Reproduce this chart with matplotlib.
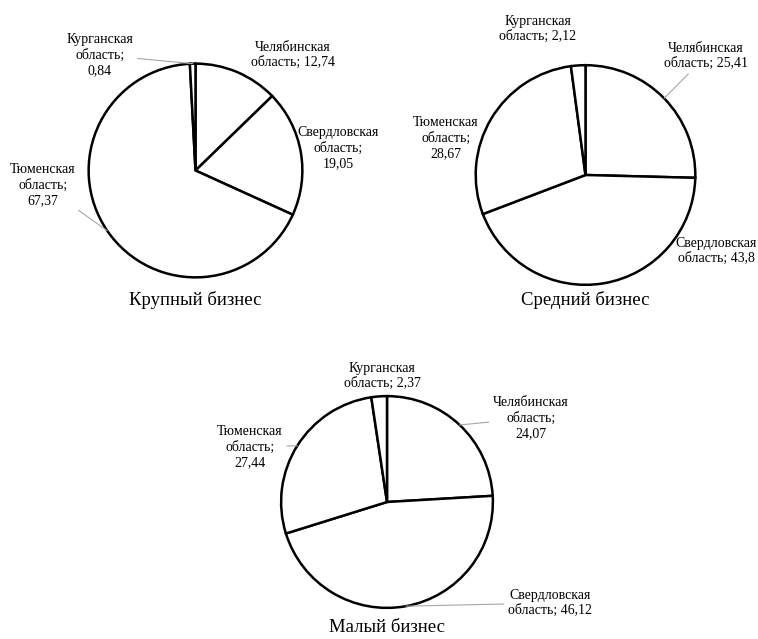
import matplotlib
matplotlib.use("Agg")
import matplotlib.pyplot as plt
import numpy as np

plt.rcParams['font.family'] = ['Liberation Serif', 'DejaVu Serif']

regions = ['Челябинская', 'Свердловская', 'Тюменская', 'Курганская']
large = [12.74, 19.05, 67.37, 0.84]
medium = [25.41, 43.8, 28.67, 2.12]
small = [24.07, 46.12, 27.44, 2.37]
titles = ['Крупный бизнес', 'Средний бизнес', 'Малый бизнес']
# how the label breaks between "область;" and the value
breaks = [[' ', '\n', '\n', '\n'],
          [' ', ' ', '\n', ' '],
          ['\n', ' ', '\n', ' ']]
leaders = [[False, False, True, True],
           [True, False, False, False],
           [True, True, True, False]]

W, H = 758, 639
# layout in image pixels (top-left origin): pie centre, radius, title pos, label centres
pies = [
    dict(c=(195.5, 170.5), r=109, title=(195, 300),
         labels=[(293, 55), (338, 148), (43, 185), (100, 55)]),
    dict(c=(585.5, 175), r=112, title=(585, 300),
         labels=[(706, 56), (716, 251), (446, 138), (538, 29)]),
    dict(c=(387, 502), r=108, title=(387, 628),
         labels=[(531, 418), (550, 603), (250, 447), (382, 376)]),
]

fig = plt.figure(figsize=(W / 100, H / 100), dpi=100)

for k, vals in enumerate([large, medium, small]):
    p = pies[k]
    cx, cy = p['c']
    r = p['r']
    ax = fig.add_axes([(cx - r) / W, (H - cy - r) / H, 2 * r / W, 2 * r / H])
    wedges, _ = ax.pie(vals, startangle=90, counterclock=False, radius=1,
                       colors=['white'] * len(vals),
                       wedgeprops=dict(edgecolor='black', linewidth=1.8))
    ax.set_xlim(-1.02, 1.02)
    ax.set_ylim(-1.02, 1.02)
    ax.set_aspect('equal')
    ax.axis('off')
    for i, w in enumerate(wedges):
        mid = np.deg2rad((w.theta1 + w.theta2) / 2)
        xy = (np.cos(mid), np.sin(mid))
        txt = f"{regions[i]}\nобласть;{breaks[k][i]}{str(vals[i]).replace('.', ',')}"
        lx, ly = p['labels'][i]
        arrow = dict(arrowstyle='-', color='#a6a6a6', lw=0.8, shrinkA=1, shrinkB=0) if leaders[k][i] else None
        ax.annotate(txt, xy=xy, xycoords='data', xytext=(lx, H - ly), textcoords='figure pixels',
                    ha='center', va='center', multialignment='center', fontsize=10,
                    linespacing=1.22, arrowprops=arrow, annotation_clip=False)
    tx, ty = p['title']
    fig.text(tx / W, 1 - ty / H, titles[k], ha='center', va='center', fontsize=13.5)

fig.savefig('out.png', dpi=100, facecolor='white')
